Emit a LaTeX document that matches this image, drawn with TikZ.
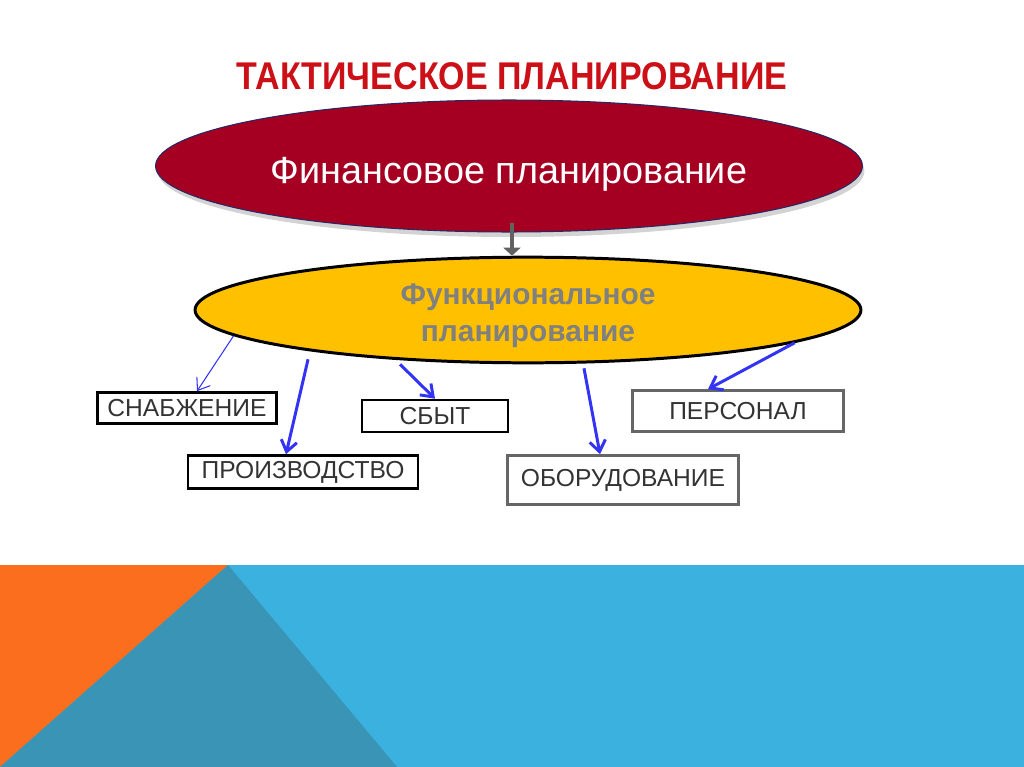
\documentclass[tikz,border=0pt]{standalone}
\usepackage{fontspec}
\setmainfont{Liberation Sans}
\newfontfamily\titlefont[FakeStretch=0.88]{Liberation Sans}
\usetikzlibrary{arrows.meta,shapes.geometric,shadows}
\definecolor{TitleRed}{RGB}{204,16,24}
\definecolor{FinRed}{RGB}{165,0,33}
\definecolor{FinEdge}{RGB}{40,40,100}
\definecolor{FuncGold}{RGB}{255,192,0}
\definecolor{ArrowBlue}{RGB}{51,51,245}
\definecolor{BandBlue}{RGB}{58,177,223}
\definecolor{BandTeal}{RGB}{57,148,181}
\definecolor{BandOrange}{RGB}{251,110,29}

\begin{document}
\begin{tikzpicture}[x=0.02cm,y=-0.02cm,
  taskbox/.style={draw,line width=1.5pt,inner sep=0pt,font=\fontsize{14}{16}\selectfont,text=black!80},
  blarrow/.style={-{Straight Barb[length=2.2mm,width=3.2mm]},ArrowBlue,line width=1.7pt}]
  \useasboundingbox (0,0) rectangle (1024,767);
  \fill[BandBlue] (0,565) rectangle (1024,767);
  \fill[BandOrange] (0,565) -- (228,565) -- (0,767) -- cycle;
  \fill[BandTeal] (228,565) -- (0,767) -- (397,767) -- cycle;

  \node[font=\titlefont\bfseries\fontsize{22}{24}\selectfont,text=TitleRed]
    (title) at (512,76) {ТАКТИЧЕСКОЕ ПЛАНИРОВАНИЕ};

  \node[ellipse,draw=FinEdge,line width=0.6pt,fill=FinRed,inner sep=0pt,
    minimum width=14.14cm,minimum height=2.64cm,text height=0.87cm,
    drop shadow={shadow xshift=0.04cm,shadow yshift=-0.1cm,opacity=0.35},
    text=white,font=\fontsize{21.5}{24}\selectfont]
    (fin) at (509,166) {Финансовое планирование};

  \node[ellipse,draw=black,line width=1.7pt,fill=FuncGold,inner sep=0pt,
    minimum width=13.32cm,minimum height=2.1cm,align=center,text height=1.37cm,
    text=black!50,font=\bfseries\fontsize{17}{21}\selectfont]
    (func) at (528,310) {Функциональное\\планирование};

  \draw[line width=2.8pt,black!62,-{Triangle[length=1.6mm,width=3.4mm]}]
    ([xshift=0.06cm,yshift=0.2cm]fin.south) -- ([xshift=0.06cm]fin.south |- func.north);

  \node[taskbox,minimum width=3.58cm,minimum height=0.62cm] (snab) at (187,408) {СНАБЖЕНИЕ};
  \node[taskbox,minimum width=2.92cm,minimum height=0.64cm] (sbyt) at (435,416) {СБЫТ};
  \node[taskbox,minimum width=4.6cm,minimum height=0.66cm] (prod) at (303,472) {ПРОИЗВОДСТВО};
  \node[taskbox,draw=black!60,minimum width=4.62cm,minimum height=0.98cm] (obor) at (623,480) {ОБОРУДОВАНИЕ};
  \node[taskbox,draw=black!60,minimum width=4.22cm,minimum height=0.82cm] (pers) at (738,411) {ПЕРСОНАЛ};

  \draw[blarrow,line width=0.6pt] (func.185) -- ([xshift=0.2cm]snab.north);
  \draw[blarrow] ([xshift=-4.4cm,yshift=0.1cm]func.south) -- ([xshift=-0.34cm]prod.north);
  \draw[blarrow] ([xshift=-2.56cm]func.south) -- (sbyt.north);
  \draw[blarrow] ([xshift=1.12cm,yshift=-0.08cm]func.south) -- ([xshift=-0.46cm]obor.north);
  \draw[blarrow] (func.-7) -- ([xshift=-0.6cm]pers.north);
\end{tikzpicture}
\end{document}
